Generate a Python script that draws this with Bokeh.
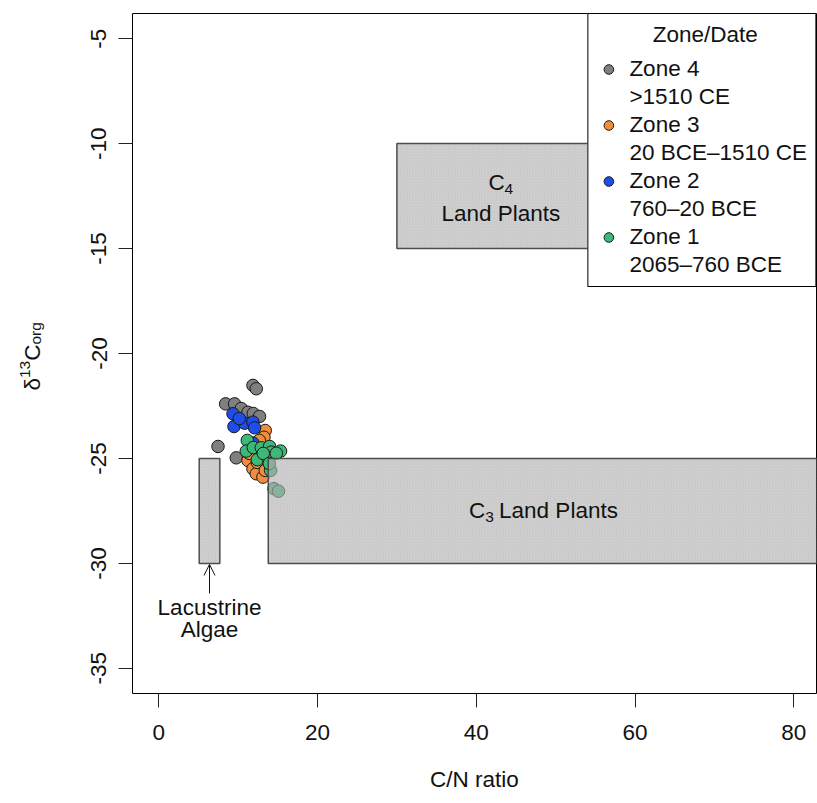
import math
from bokeh.plotting import figure
from bokeh.layouts import row
from bokeh.models import (Range1d, FixedTicker, Legend, LegendItem, Arrow, OpenHead)
from bokeh.core.properties import value
from bokeh.embed import file_html
from bokeh.resources import INLINE

FONT = "Liberation Sans"
FS = "22.5px"
FS_SUB = "15.5px"

# ---- data ----
zone4_cn = [11.87, 12.29, 8.43, 9.56, 10.40, 11.25, 11.91, 12.70, 7.47, 9.77]
zone4_d13c = [-21.52, -21.68, -22.40, -22.40, -22.62, -22.80, -22.86, -23.00, -24.43, -24.97]

zone3_cn = [13.42, 13.26, 12.67, 11.66, 11.25, 11.87, 12.29, 13.13, 11.41, 12.42, 13.42]
zone3_d13c = [-23.67, -23.99, -24.14, -24.38, -25.10, -25.49, -25.73, -25.89, -24.76, -25.19, -25.57]

zone2_cn = [9.36, 9.48, 10.82, 11.87, 12.08, 10.15, 11.87]
zone2_d13c = [-22.87, -23.48, -23.32, -23.27, -23.54, -23.10, -24.27]

zone1_cn = [11.16, 11.03, 11.91, 12.92, 13.96, 14.18, 15.35, 12.42, 13.76, 14.81, 13.17, 14.09, 13.93, 14.52, 15.09]
zone1_d13c = [-24.14, -24.65, -24.48, -24.49, -24.43, -24.70, -24.65, -25.06, -24.97, -24.75, -24.76, -25.57, -25.24, -26.44, -26.56]

zone_names = ["Zone 4", "Zone 3", "Zone 2", "Zone 1"]
zone_dates = [">1510 CE", "20 BCE\u20131510 CE", "760\u201320 BCE", "2065\u2013760 BCE"]
zone_colors = ["#7f7f7f", "#f28e3b", "#1f4de8", "#3cb878"]

# reference source boxes (C/N and d13C ranges)
box_left = [30.0, 13.8, 5.1]
box_right = [56.2, 83.4, 7.7]
box_top = [-10.0, -25.0, -25.0]
box_bottom = [-15.0, -30.0, -30.0]

x_ticks = [0, 20, 40, 60, 80]
y_ticks = [-35, -30, -25, -20, -15, -10, -5]

X_RANGE = (-3.3, 82.85)
Y_RANGE = (-36.2, -3.8)

W_LAB = 60      # width of the strip holding the y-axis title
H = 803
TOP, BOTTOM = 13, 110

# ---- main figure ----
p = figure(width=817 - W_LAB, height=H, x_range=Range1d(*X_RANGE), y_range=Range1d(*Y_RANGE),
           output_backend="svg", toolbar_location=None,
           min_border_left=132 - W_LAB, min_border_right=1, min_border_top=TOP,
           min_border_bottom=BOTTOM)
p.grid.visible = False
p.outline_line_color = "black"
p.outline_line_width = 1
p.background_fill_color = "white"
p.border_fill_color = "white"

for ax in (p.xaxis[0], p.yaxis[0]):
    ax.axis_line_color = None
    ax.major_tick_in = 0
    ax.major_tick_out = 14
    ax.minor_tick_line_color = None
    ax.major_tick_line_color = "#222222"
    ax.major_label_text_font = FONT
    ax.major_label_text_font_size = FS
    ax.major_label_text_color = "#111111"

p.xaxis[0].ticker = FixedTicker(ticks=x_ticks)
p.yaxis[0].ticker = FixedTicker(ticks=y_ticks)
p.yaxis[0].major_label_overrides = {t: str(t) for t in y_ticks}
p.yaxis[0].major_label_orientation = "vertical"
p.xaxis[0].major_label_standoff = 17
p.yaxis[0].major_label_standoff = 12
p.xaxis[0].axis_label = "C/N ratio"
p.xaxis[0].axis_label_text_font = FONT
p.xaxis[0].axis_label_text_font_size = FS
p.xaxis[0].axis_label_text_font_style = "normal"
p.xaxis[0].axis_label_text_color = "#111111"
p.xaxis[0].axis_label_standoff = 24

# ---- y-axis title strip (shares the y range, frames are aligned in the row) ----
FRAME_H = H - TOP - BOTTOM


def py2y(py):
    return Y_RANGE[1] - (py - TOP) / FRAME_H * (Y_RANGE[1] - Y_RANGE[0])


lab = figure(width=W_LAB, height=H, x_range=Range1d(0, W_LAB), y_range=p.y_range,
             output_backend="svg", toolbar_location=None,
             x_axis_type=None, y_axis_type=None,
             min_border_left=0, min_border_right=0, min_border_top=TOP,
             min_border_bottom=BOTTOM)
lab.grid.visible = False
lab.outline_line_color = None
lab.background_fill_color = "white"
lab.border_fill_color = "white"

ylab_parts = ["\u03b4", "13", "C", "org"]
ylab_px = [32, 24, 32, 35]
ylab_py = [390, 377.5, 360.3, 344.0]
ylab_fs = [FS, FS_SUB, FS, FS_SUB]
for s, px, py, fs in zip(ylab_parts, ylab_px, ylab_py, ylab_fs):
    lab.text(x=[px], y=[py2y(py)], text=[s], angle=math.pi / 2, text_font=value(FONT),
             text_font_size=fs, text_align="left", text_baseline="alphabetic",
             text_color="#111111")

# ---- points ----
series = [(zone4_cn, zone4_d13c), (zone3_cn, zone3_d13c), (zone2_cn, zone2_d13c), (zone1_cn, zone1_d13c)]
renderers = []
for (xs, ys), col in zip(series, zone_colors):
    r = p.scatter(x=xs, y=ys, size=12.5, fill_color=col, line_color="#1a1a1a", line_width=1)
    renderers.append(r)

# ---- boxes (drawn over the points, translucent) ----
p.quad(left=box_left, right=box_right, top=box_top, bottom=box_bottom,
       fill_color="#b4b4b4", fill_alpha=0.6, line_color="#4d4d4d", line_width=1.5,
       hatch_pattern="/", hatch_scale=3, hatch_color="#8a8a8a", hatch_alpha=0.25, hatch_weight=0.6)

# ---- box labels ----
c4x = (box_left[0] + box_right[0]) / 2
c4y = (box_top[0] + box_bottom[0]) / 2
c3x = (box_left[1] + box_right[1]) / 2
c3y = (box_top[1] + box_bottom[1]) / 2
alx = (box_left[2] + box_right[2]) / 2


def txt(x, y, s, size=FS, align="left", xo=0, yo=0):
    p.text(x=[x], y=[y], text=[s], text_font=value(FONT), text_font_size=size,
           text_align=align, text_baseline="middle", x_offset=xo, y_offset=yo,
           text_color="#111111")


txt(c4x, c4y + 0.67, "C", xo=-12.5)
txt(c4x, c4y + 0.67, "4", size=FS_SUB, xo=3.7, yo=6.5)
txt(c4x, c4y - 0.83, "Land Plants", align="center")

txt(c3x, c3y, "C", xo=-75.5)
txt(c3x, c3y, "3", size=FS_SUB, xo=-59.3, yo=6.5)
txt(c3x, c3y, "Land Plants", xo=-45.5)

txt(alx, -32.10, "Lacustrine", align="center")
txt(alx, -33.14, "Algae", align="center")

p.add_layout(Arrow(end=OpenHead(size=11, line_width=1, line_color="#111111"),
                   x_start=alx, y_start=-31.43, x_end=alx, y_end=box_bottom[2] - 0.05,
                   line_width=1, line_color="#111111"))

# ---- legend ----
items = []
for name, date, r in zip(zone_names, zone_dates, renderers):
    blank = p.scatter(x=[], y=[], size=1, fill_alpha=0, line_alpha=0)
    items.append(LegendItem(label=name, renderers=[r]))
    items.append(LegendItem(label=date, renderers=[blank]))

legend = Legend(items=items, location="top_right", margin=0, padding=8, spacing=2,
                glyph_width=24, glyph_height=24, label_height=24, label_standoff=9,
                border_line_color="black", border_line_width=1, border_line_alpha=1,
                background_fill_color="white", background_fill_alpha=1,
                label_text_font=FONT, label_text_font_size=FS, label_text_color="#111111",
                title="\u00a0" * 9 + "Zone/Date", title_text_font=FONT, title_text_font_size=FS,
                title_text_font_style="normal", title_text_color="#111111",
                title_standoff=8)
p.add_layout(legend)

layout = row(lab, p, spacing=0)
open("out.html", "w").write(file_html(layout, INLINE))
